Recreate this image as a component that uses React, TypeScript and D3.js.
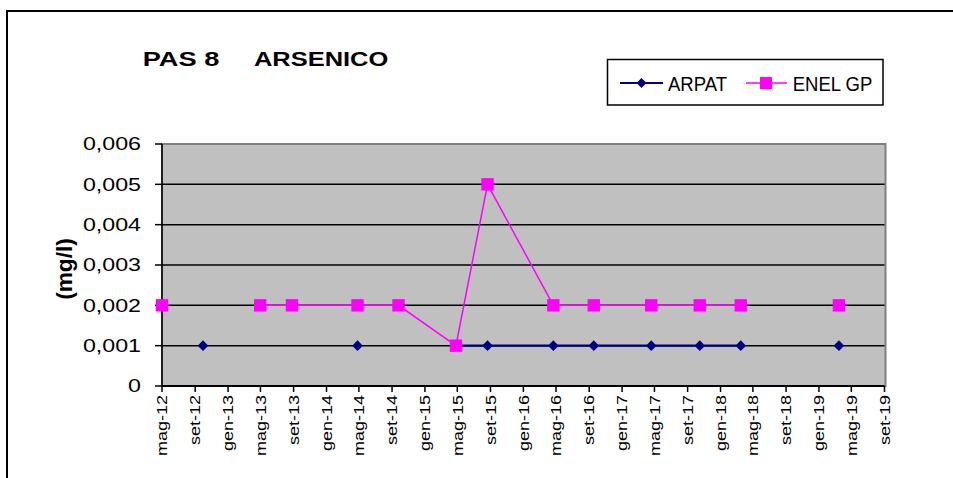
import React from "react";
import * as d3 from "d3";

const dates: string[] = [
  "2012-05-01", "2012-09-30", "2013-04-30", "2013-08-26", "2014-04-26",
  "2014-09-25", "2015-04-26", "2015-08-21", "2016-04-21", "2016-09-18",
  "2017-04-19", "2017-10-16", "2018-03-17", "2018-10-01", "2019-03-16",
];
const arpat: (number | null)[] = [
  null, 0.001, null, null, 0.001, null, 0.001, 0.001, 0.001, 0.001, 0.001, 0.001, 0.001, null, 0.001,
];
const enel: (number | null)[] = [
  0.002, null, 0.002, 0.002, 0.002, 0.002, 0.001, 0.005, 0.002, 0.002, 0.002, 0.002, 0.002, null, 0.002,
];
const tickDates: string[] = [
  "2012-05-01", "2012-09-01", "2013-01-01", "2013-05-01", "2013-09-01", "2014-01-01",
  "2014-05-01", "2014-09-01", "2015-01-01", "2015-05-01", "2015-09-01", "2016-01-01",
  "2016-05-01", "2016-09-01", "2017-01-01", "2017-05-01", "2017-09-01", "2018-01-01",
  "2018-05-01", "2018-09-01", "2019-01-01", "2019-05-01", "2019-09-01",
];
const tickLabels: string[] = [
  "mag-12", "set-12", "gen-13", "mag-13", "set-13", "gen-14", "mag-14", "set-14",
  "gen-15", "mag-15", "set-15", "gen-16", "mag-16", "set-16", "gen-17", "mag-17",
  "set-17", "gen-18", "mag-18", "set-18", "gen-19", "mag-19", "set-19",
];
const yTicks: number[] = [0, 0.001, 0.002, 0.003, 0.004, 0.005, 0.006];
const yTickLabels: string[] = ["0", "0,001", "0,002", "0,003", "0,004", "0,005", "0,006"];
const seriesNames: string[] = ["ARPAT", "ENEL GP"];

const FONT = "'Liberation Sans', Arial, sans-serif";
const parse = d3.timeParse("%Y-%m-%d");

export default function App() {
  const W = 953, H = 478;
  const left = 162, right = 884.5, top = 144, bottom = 386;
  const x = d3.scaleTime()
    .domain([parse(tickDates[0])!, parse(tickDates[tickDates.length - 1])!])
    .range([left, right]);
  const y = d3.scaleLinear().domain([0, 0.006]).range([bottom, top]);

  const rows = dates.map((d, i) => ({ date: parse(d)!, a: arpat[i], e: enel[i] }));
  const lineA = d3.line<any>().defined((r) => r.a != null).x((r) => x(r.date)).y((r) => y(r.a));
  const lineE = d3.line<any>().defined((r) => r.e != null).x((r) => x(r.date)).y((r) => y(r.e));

  const diamond = (cx: number, cy: number, r: number) =>
    `M${cx},${cy - r}L${cx + r},${cy}L${cx},${cy + r}L${cx - r},${cy}Z`;

  const navy = "#000080";
  const mag = "#FF00FF";

  return (
    <svg width={W} height={H} style={{ position: "absolute", left: 0, top: 0, background: "#fff" }}>
      {/* outer chart border */}
      <rect x={7} y={11} width={1200} height={1200} fill="none" stroke="#000" strokeWidth={2} />

      {/* title */}
      <text x={142.7} y={65.5} fontFamily={FONT} fontWeight="bold" fontSize={20.5}
        textLength={76.6} lengthAdjust="spacingAndGlyphs">PAS 8</text>
      <text x={254} y={65.5} fontFamily={FONT} fontWeight="bold" fontSize={20.5}
        textLength={134.3} lengthAdjust="spacingAndGlyphs">ARSENICO</text>

      {/* legend */}
      <rect x={607.5} y={59.5} width={275.5} height={45.5} fill="#fff" stroke="#000" strokeWidth={1.5} />
      <line x1={620} x2={663} y1={83} y2={83} stroke={navy} strokeWidth={2} />
      <path d={diamond(641.5, 83, 5)} fill={navy} />
      <text transform={`translate(668,90.5) scale(0.95,1)`} fontFamily={FONT} fontSize={19.5}>{seriesNames[0]}</text>
      <line x1={746} x2={787} y1={83} y2={83} stroke={mag} strokeWidth={1.5} />
      <rect x={760} y={77} width={12} height={12} fill={mag} />
      <text transform={`translate(792.7,90.5) scale(0.95,1)`} fontFamily={FONT} fontSize={19.5}>{seriesNames[1]}</text>

      {/* plot area */}
      <rect x={left} y={top} width={right - left + 1} height={bottom - top} fill="#C0C0C0" stroke="#808080" strokeWidth={2} />
      {yTicks.slice(1, -1).map((t) => (
        <line key={t} x1={left} x2={right} y1={y(t)} y2={y(t)} stroke="#000" strokeWidth={1.5} />
      ))}

      {/* y axis */}
      <line x1={left} x2={left} y1={top} y2={bottom} stroke="#000" strokeWidth={1.5} />
      {yTicks.map((t, i) => (
        <g key={t}>
          <line x1={left - 7} x2={left} y1={y(t)} y2={y(t)} stroke="#000" strokeWidth={1.5} />
          <text transform={`translate(141,${y(t) + 6.4}) scale(1.29,1)`} textAnchor="end"
            fontFamily={FONT} fontSize={18}>{yTickLabels[i]}</text>
        </g>
      ))}
      <text transform={`translate(72.3,269) rotate(-90) scale(1.03,1)`} textAnchor="middle"
        fontFamily={FONT} fontWeight="bold" fontSize={22}>(mg/l)</text>

      {/* x axis */}
      <line x1={left} x2={right} y1={bottom} y2={bottom} stroke="#000" strokeWidth={2} />
      {tickDates.map((t, i) => {
        const tx = x(parse(t)!);
        return (
          <g key={t}>
            <line x1={tx} x2={tx} y1={bottom} y2={bottom + 6} stroke="#000" strokeWidth={1.5} />
            <text transform={`translate(${tx + 5.3},${bottom + 9}) rotate(-90) scale(1.26,1)`} textAnchor="end"
              fontFamily={FONT} fontSize={14.3}>{tickLabels[i]}</text>
          </g>
        );
      })}

      {/* ARPAT */}
      <path d={lineA(rows) || ""} fill="none" stroke={navy} strokeWidth={2.2} />
      {rows.filter((r) => r.a != null).map((r, i) => (
        <path key={"a" + i} d={diamond(x(r.date), y(r.a as number), 5.3)} fill={navy} />
      ))}

      {/* ENEL GP */}
      <path d={lineE(rows) || ""} fill="none" stroke={mag} strokeWidth={1.5} />
      {rows.filter((r) => r.e != null).map((r, i) => (
        <rect key={"e" + i} x={x(r.date) - 6.2} y={y(r.e as number) - 6.2} width={12.4} height={12.4} fill={mag} />
      ))}
    </svg>
  );
}
